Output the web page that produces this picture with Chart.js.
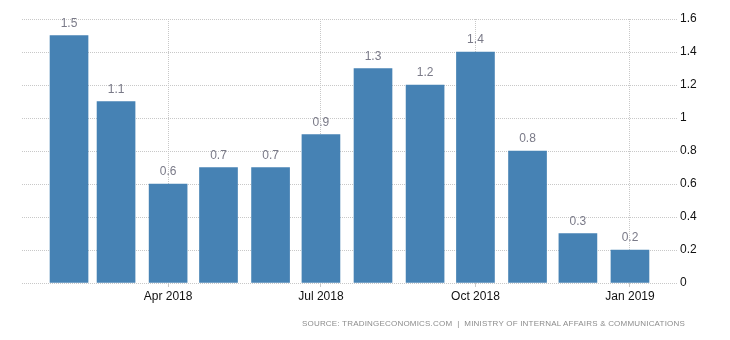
<!DOCTYPE html>
<html>
<head>
<meta charset="utf-8">
<script src="https://cdn.jsdelivr.net/npm/chart.js@4/dist/chart.umd.min.js"></script>
<style>
  html, body { margin: 0; padding: 0; background: #fff; }
  #wrap { position: relative; width: 730px; height: 340px; }
  #source {
    position: absolute; right: 45px; top: 319px;
    font: 8px "Liberation Sans", Arial, sans-serif; letter-spacing: 0.2px;
    color: #8c8c8c; white-space: nowrap;
  }
</style>
</head>
<body>
<div id="wrap">
  <canvas id="myChart" width="730" height="340"></canvas>
  <div id="source">SOURCE: TRADINGECONOMICS.COM &nbsp;|&nbsp; MINISTRY OF INTERNAL AFFAIRS &amp; COMMUNICATIONS</div>
</div>
<script>
"use strict"

const months = ['2018-02-01', '2018-03-01', '2018-04-01', '2018-05-01', '2018-06-01', '2018-07-01',
                '2018-08-01', '2018-09-01', '2018-10-01', '2018-11-01', '2018-12-01', '2019-01-01'];
const inflation = [1.5, 1.1, 0.6, 0.7, 0.7, 0.9, 1.3, 1.2, 1.4, 0.8, 0.3, 0.2];
const tickDates = ['2018-04-01', '2018-07-01', '2018-10-01', '2019-01-01'];
const tickLabels = ['Apr 2018', 'Jul 2018', 'Oct 2018', 'Jan 2019'];

// days counted from the first month, so the x axis spaces months like a calendar
const start = Date.parse(months[0]);
function dayOf(d) {
  return Math.round((Date.parse(d) - start) / 86400000);
}

const points = months.map((m, i) => ({ x: dayOf(m), y: inflation[i] }));
const tickDays = tickDates.map(dayOf);

// writes each value over its bar
const barValues = {
  id: 'barValues',
  afterDatasetsDraw(chart) {
    const ctx = chart.ctx;
    const meta = chart.getDatasetMeta(0);
    ctx.save();
    ctx.font = '12px "Liberation Sans", Arial, sans-serif';
    ctx.fillStyle = '#7a7a88';
    ctx.textAlign = 'center';
    ctx.textBaseline = 'middle';
    meta.data.forEach((bar, i) => {
      ctx.fillText(String(inflation[i]), bar.x, bar.y - 12);
    });
    ctx.restore();
  }
};

let ctx = document.getElementById('myChart').getContext('2d');

let inflationChart = new Chart(ctx, {
  type: 'bar',
  data: {
    datasets: [{
      label: 'Inflation Rate',
      data: points,
      backgroundColor: '#4682b4',
      barThickness: 38
    }]
  },
  plugins: [barValues],
  options: {
    responsive: false,
    animation: false,
    layout: { padding: { left: 22, top: 19, right: 0, bottom: 0 } },
    plugins: {
      legend: { display: false },
      tooltip: { enabled: false }
    },
    scales: {
      x: {
        type: 'linear',
        offset: false,
        min: -28,
        max: 362,
        afterBuildTicks(scale) {
          scale.ticks = tickDays.map(v => ({ value: v }));
        },
        afterFit(scale) { scale.height = 57; },
        ticks: {
          autoSkip: false,
          maxRotation: 0,
          padding: 2,
          color: '#111',
          font: { family: '"Liberation Sans", Arial, sans-serif', size: 12 },
          callback: (v) => tickLabels[tickDays.indexOf(v)]
        },
        grid: {
          offset: false,
          color: '#c8c8c8',
          tickLength: 4,
          tickColor: '#c8c8c8'
        },
        border: { display: false, dash: [1, 1] }
      },
      y: {
        position: 'right',
        min: 0,
        max: 1.6,
        afterFit(scale) { scale.width = 53; },
        ticks: {
          stepSize: 0.2,
          padding: 3,
          color: '#111',
          font: { family: '"Liberation Sans", Arial, sans-serif', size: 12 },
          callback: (v) => String(Math.round(v * 10) / 10)
        },
        grid: {
          color: '#c8c8c8',
          drawTicks: false
        },
        border: { display: false, dash: [1, 1] }
      }
    }
  }
});
</script>
</body>
</html>
